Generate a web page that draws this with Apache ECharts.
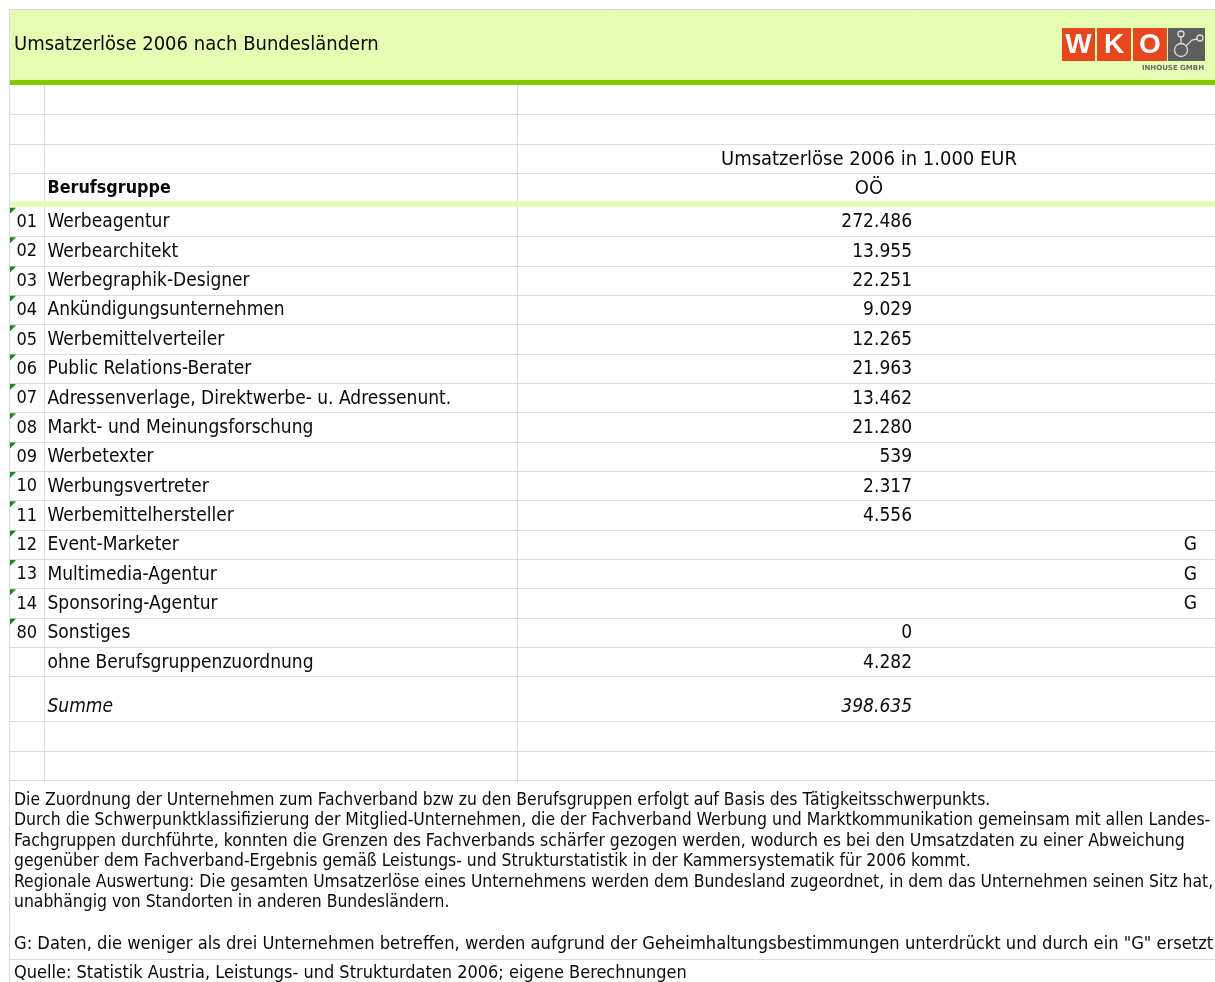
<!DOCTYPE html>
<html><head><meta charset="utf-8">
<script src="https://cdn.jsdelivr.net/npm/echarts@6/dist/echarts.min.js"></script>
<style>html,body{margin:0;padding:0;background:#fff}#main{width:1215px;height:982px}</style>
</head><body><div id="main"></div>
<script>
// ---------- data ----------
const pageTitle = 'Umsatzerlöse 2006 nach Bundesländern';
const measureTitle = 'Umsatzerlöse 2006 in 1.000 EUR';
const regionLabel = 'OÖ';
const groupHeader = 'Berufsgruppe';
const codes = ['01','02','03','04','05','06','07','08','09','10','11','12','13','14','80',''];
const groups = ['Werbeagentur','Werbearchitekt','Werbegraphik-Designer','Ankündigungsunternehmen','Werbemittelverteiler',
  'Public Relations-Berater','Adressenverlage, Direktwerbe- u. Adressenunt.','Markt- und Meinungsforschung','Werbetexter',
  'Werbungsvertreter','Werbemittelhersteller','Event-Marketer','Multimedia-Agentur','Sponsoring-Agentur','Sonstiges',
  'ohne Berufsgruppenzuordnung'];
const values = [272486,13955,22251,9029,12265,21963,13462,21280,539,2317,4556,null,null,null,0,4282];
const suppressedMark = 'G';
const sumLabel = 'Summe';
const sumValue = 398635;
const footerLines = [
  'Die Zuordnung der Unternehmen zum Fachverband bzw zu den Berufsgruppen erfolgt auf Basis des Tätigkeitsschwerpunkts.',
  'Durch die Schwerpunktklassifizierung der Mitglied-Unternehmen, die der Fachverband Werbung und Marktkommunikation gemeinsam mit allen Landes-',
  'Fachgruppen durchführte, konnten die Grenzen des Fachverbands schärfer gezogen werden, wodurch es bei den Umsatzdaten zu einer Abweichung',
  'gegenüber dem Fachverband-Ergebnis gemäß Leistungs- und Strukturstatistik in der Kammersystematik für 2006 kommt.',
  'Regionale Auswertung: Die gesamten Umsatzerlöse eines Unternehmens werden dem Bundesland zugeordnet, in dem das Unternehmen seinen Sitz hat,',
  'unabhängig von Standorten in anderen Bundesländern.',
  '',
  'G: Daten, die weniger als drei Unternehmen betreffen, werden aufgrund der Geheimhaltungsbestimmungen unterdrückt und durch ein "G" ersetzt.'
];
const sourceLine = 'Quelle: Statistik Austria, Leistungs- und Strukturdaten 2006; eigene Berechnungen';

// ---------- style / layout ----------
const FONT = '"DejaVu Sans Condensed", "DejaVu Sans", sans-serif';
const TXT = '#0a0a0a';
const GRID = '#d6dbe7';
const BAND = '#e4fdb2';
const GREEN = '#84c800';
const TRI = '#17871a';
const FS = 19;
const TABLE_W = 1205;              // x-units of the table (grid spans 10..1215)
const COL1 = 33.5, COL2 = 507;     // column separators
const X_CODE = 6.5, X_NAME = 37.5, X_VAL = 902, X_G = 1187, X_HEAD = 859;

function fmt(n){ return String(n).replace(/\B(?=(\d{3})+(?!\d))/g, '.'); }

// build rows (heights in row units)
const rows = [];
rows.push({kind:'blank', h:1});
rows.push({kind:'blank', h:1});
rows.push({kind:'head1', h:1});
rows.push({kind:'head2', h:1});
rows.push({kind:'band', h:0.15});
codes.forEach((c, i) => rows.push({kind:'data', h:1, code:c, name:groups[i], value:values[i]}));
rows.push({kind:'sum', h:1.53});
rows.push({kind:'blank', h:1});
rows.push({kind:'blank', h:1});
let acc = 0;
rows.forEach(r => { r.y0 = acc; acc += r.h; r.y1 = acc; });
const TOTAL_UNITS = acc;

function txt(x, y, text, o) {
  o = o || {};
  return {type:'text', x:x, y:y, style:{text:text, fill:TXT, fontSize:o.fs||FS, fontFamily:FONT,
    fontWeight:o.fw||'normal', fontStyle:o.it?'italic':'normal', align:o.align||'left', verticalAlign:'middle'}};
}

function renderRow(params, api) {
  const r = rows[api.value(0)];
  const xL = api.coord([0, 0])[0];
  const xR = api.coord([TABLE_W, 0])[0];
  const xc = u => api.coord([u, 0])[0];
  const yT = api.coord([0, r.y0])[1];
  const yB = api.coord([0, r.y1])[1];
  const ch = [];
  if (r.kind === 'band') {
    ch.push({type:'rect', shape:{x:xL, y:yT - 1, width:xR - xL, height:yB - yT + 1}, style:{fill:BAND}});
    return {type:'group', children:ch};
  }
  const yl = Math.round(yB) + 0.5;
  ch.push({type:'line', shape:{x1:xL, y1:yl, x2:xR, y2:yl}, style:{stroke:GRID, lineWidth:1}});
  [COL1, COL2].forEach(u => {
    const xv = Math.round(xc(u)) + 0.5;
    ch.push({type:'line', shape:{x1:xv, y1:yT, x2:xv, y2:yB + (r === rows[rows.length-1] ? 3 : 0)}, style:{stroke:GRID, lineWidth:1}});
  });
  const ym = (yT + yB) / 2 + 1;
  if (r.kind === 'head1') ch.push(txt(xc(X_HEAD), ym, measureTitle, {align:'center', fs:20}));
  if (r.kind === 'head2') {
    ch.push(txt(xc(X_NAME), ym, groupHeader, {fw:'bold', fs:17.8}));
    ch.push(txt(xc(X_HEAD), ym, regionLabel, {align:'center', fs:20}));
  }
  if (r.kind === 'data') {
    if (r.code) {
      ch.push({type:'polygon', shape:{points:[[xL, yT + 1], [xL + 6, yT + 1], [xL, yT + 7]]}, style:{fill:TRI}});
      ch.push(txt(xc(X_CODE), ym, r.code, {fs:18}));
    }
    ch.push(txt(xc(X_NAME), ym, r.name));
    if (r.value === null) ch.push(txt(xc(X_G), ym, suppressedMark, {align:'right'}));
    else ch.push(txt(xc(X_VAL), ym, fmt(r.value), {align:'right'}));
  }
  if (r.kind === 'sum') {
    const ys = yB - 14;
    ch.push(txt(xc(X_NAME), ys, sumLabel, {it:true}));
    ch.push(txt(xc(X_VAL), ys, fmt(sumValue), {it:true, align:'right'}));
  }
  return {type:'group', children:ch};
}

// ---------- decorations ----------
const LOGOFONT = '"Liberation Sans", Arial, sans-serif';
const graphics = [
  {type:'rect', shape:{x:10, y:10, width:1205, height:70}, style:{fill:BAND}, z:0},
  {type:'rect', shape:{x:10, y:80, width:1205, height:5}, style:{fill:GREEN}, z:5},
  {type:'line', shape:{x1:9.5, y1:9.5, x2:1215, y2:9.5}, style:{stroke:GRID, lineWidth:1}},
  {type:'line', shape:{x1:9.5, y1:9.5, x2:9.5, y2:982}, style:{stroke:GRID, lineWidth:1}},
  {type:'line', shape:{x1:10, y1:959.5, x2:1215, y2:959.5}, style:{stroke:GRID, lineWidth:1}},
  {type:'text', x:14, y:45, style:{text:pageTitle, fill:TXT, fontSize:20, fontFamily:FONT, verticalAlign:'middle'}},
  // logo
  {type:'rect', shape:{x:1062, y:28, width:33, height:33}, style:{fill:'#e8461d'}},
  {type:'rect', shape:{x:1097, y:28, width:34, height:33}, style:{fill:'#e8461d'}},
  {type:'rect', shape:{x:1133, y:28, width:34, height:33}, style:{fill:'#e8461d'}},
  {type:'rect', shape:{x:1168, y:28, width:37, height:33}, style:{fill:'#5e5e5e'}},
  {type:'text', x:1078.5, y:45, style:{text:'W', fill:'#fff', fontSize:28, fontWeight:'bold', fontFamily:LOGOFONT, align:'center', verticalAlign:'middle'}},
  {type:'text', x:1114, y:45, style:{text:'K', fill:'#fff', fontSize:28, fontWeight:'bold', fontFamily:LOGOFONT, align:'center', verticalAlign:'middle'}},
  {type:'text', x:1150, y:45, style:{text:'O', fill:'#fff', fontSize:28, fontWeight:'bold', fontFamily:LOGOFONT, align:'center', verticalAlign:'middle'}},
  {type:'circle', shape:{cx:1181, cy:34, r:3}, style:{fill:'none', stroke:'#ddd', lineWidth:1.3}},
  {type:'circle', shape:{cx:1181, cy:50, r:6.5}, style:{fill:'none', stroke:'#ddd', lineWidth:1.3}},
  {type:'circle', shape:{cx:1200, cy:38, r:3}, style:{fill:'none', stroke:'#ddd', lineWidth:1.3}},
  {type:'line', shape:{x1:1181, y1:37, x2:1181, y2:43.5}, style:{stroke:'#ddd', lineWidth:1.3}},
  {type:'polyline', shape:{points:[[1186, 46], [1192, 40], [1197, 39]]}, style:{fill:'none', stroke:'#ddd', lineWidth:1.3}},
  {type:'text', x:1204, y:68, style:{text:'INHOUSE GMBH', fill:'#6a6a6a', fontSize:7, fontWeight:'bold', fontFamily:'"DejaVu Sans", sans-serif', align:'right', verticalAlign:'middle'}}
];
const footerY = [800, 820.5, 841, 861.5, 882, 902.5, 923, 944];
const footerFS = [17.4, 17.45, 17.55, 17.4, 17.35, 17.4, 17.4, 18.15];
footerLines.forEach((t, i) => {
  if (t) graphics.push({type:'text', x:14, y:footerY[i], style:{text:t, fill:TXT, fontSize:footerFS[i], fontFamily:FONT, verticalAlign:'middle'}});
});
graphics.push({type:'text', x:14, y:973, style:{text:sourceLine, fill:TXT, fontSize:18, fontFamily:FONT, verticalAlign:'middle'}});

const chart = echarts.init(document.getElementById('main'));
chart.setOption({
  animation:false,
  backgroundColor:'#fff',
  grid:{left:10, right:0, top:85, height:695},
  xAxis:{type:'value', min:0, max:TABLE_W, show:false},
  yAxis:{type:'value', min:0, max:TOTAL_UNITS, inverse:true, show:false},
  graphic:graphics,
  series:[{type:'custom', renderItem:renderRow, clip:false, silent:true,
    data:rows.map((r, i) => [i])}]
});
</script></body></html>
